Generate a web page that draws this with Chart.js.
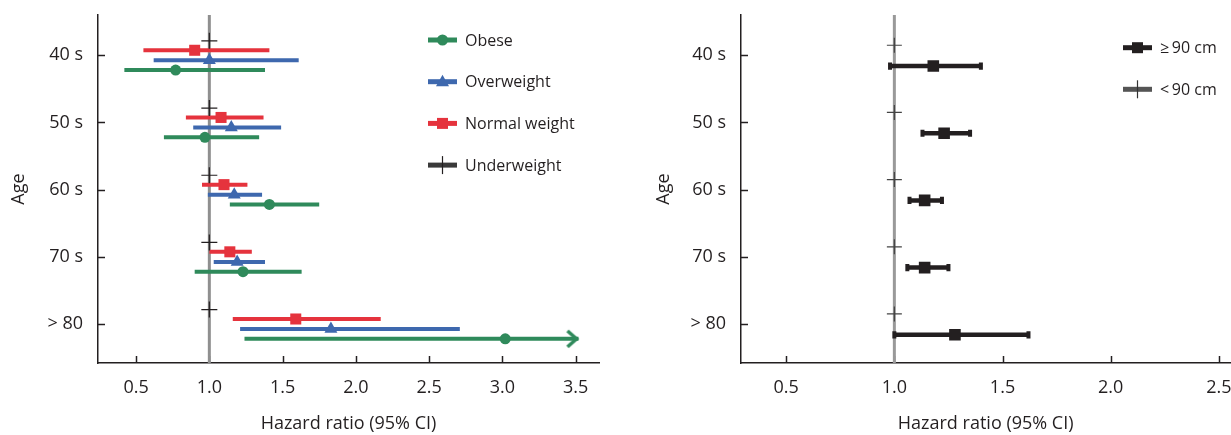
<!DOCTYPE html>
<html>
<head>
<meta charset="utf-8">
<script src="https://cdn.jsdelivr.net/npm/chart.js@4.4.1/dist/chart.umd.min.js"></script>
<style>
  body { margin: 0; background: #fff; overflow: hidden; }
  #wrap { position: relative; width: 1231px; height: 435px; overflow: hidden; }
  .panel { position: absolute; top: 0; height: 435px; }
  #left { left: 0; width: 615px; }
  #right { left: 615px; width: 624px; }
</style>
</head>
<body>
<div id="wrap">
  <div class="panel" id="left"><canvas id="bmiChart"></canvas></div>
  <div class="panel" id="right"><canvas id="waistChart"></canvas></div>
</div>
<script>
// Age groups (top to bottom)
const ageLabels = ['40 s', '50 s', '60 s', '70 s', '> 80'];

// Left panel: BMI groups, hazard ratio with 95% CI
const obeseHR = [0.77, 0.97, 1.41, 1.23, 3.02];
const obeseLo = [0.42, 0.69, 1.14, 0.90, 1.24];
const obeseHi = [1.38, 1.34, 1.75, 1.63, 3.52]; // last one runs off as an arrow
const overweightHR = [1.00, 1.15, 1.17, 1.19, 1.83];
const overweightLo = [0.62, 0.89, 0.99, 1.03, 1.21];
const overweightHi = [1.61, 1.49, 1.36, 1.38, 2.71];
const normalHR = [0.90, 1.08, 1.10, 1.14, 1.59];
const normalLo = [0.55, 0.84, 0.95, 1.00, 1.16];
const normalHi = [1.41, 1.37, 1.26, 1.29, 2.17];
const underweightHR = [1, 1, 1, 1, 1]; // reference group

// Right panel: waist circumference
const waistHighHR = [1.18, 1.23, 1.14, 1.14, 1.28];
const waistHighLo = [0.98, 1.13, 1.07, 1.06, 1.00];
const waistHighHi = [1.40, 1.35, 1.22, 1.25, 1.62];
const waistLowHR = [1, 1, 1, 1, 1]; // reference group

// Tick labels
const leftTicks = [0.5, 1.0, 1.5, 2.0, 2.5, 3.0, 3.5];
const rightTicks = [0.5, 1.0, 1.5, 2.0, 2.5];
const REF_HR = 1;

const FONT = '"Open Sans", sans-serif';
const INK = '#231f20';
const RED = '#e5333d';
const BLUE = '#3e68ae';
const GREEN = '#2f8a5b';
const GRAY = '#8f8f8f';
const Y_MIN = -0.6, Y_MAX = 4.58;

// build a line dataset that breaks between rows
function ciSegments(lo, hi, offset) {
  const pts = [];
  lo.forEach((l, i) => {
    pts.push({ x: l, y: i + offset }, { x: hi[i], y: i + offset });
    if (i < lo.length - 1) pts.push({ x: null, y: null });
  });
  return pts;
}
function estPoints(hr, offset) {
  return hr.map((v, i) => ({ x: v, y: i + offset }));
}

// open chevron used at the end of the truncated CI
const arrowImg = document.createElement('canvas');
arrowImg.width = 28; arrowImg.height = 22;
(function () {
  const c = arrowImg.getContext('2d');
  c.strokeStyle = GREEN; c.lineWidth = 3.5; c.lineCap = 'butt'; c.lineJoin = 'miter';
  c.beginPath(); c.moveTo(3, 3); c.lineTo(12, 11); c.lineTo(3, 19); c.stroke();
})();

function axes(xMin, xMax, xTicks, yWidth, yTitlePad) {
  return {
    x: {
      type: 'linear', min: xMin, max: xMax,
      afterBuildTicks: s => { s.ticks = xTicks.map(v => ({ value: v })); },
      afterFit: s => { s.height = 72; s.paddingLeft = 0; s.paddingRight = 0; },
      grid: { display: false, drawTicks: false },
      border: { display: true, color: INK, width: 1.5 },
      ticks: { color: INK, font: { family: FONT, size: 18 }, padding: 14, maxRotation: 0, autoSkip: false,
               callback: v => v.toFixed(1) },
      title: { display: true, text: 'Hazard ratio (95% CI)', color: INK, font: { family: FONT, size: 18 },
               padding: { top: 0, bottom: 0 } }
    },
    y: {
      type: 'linear', reverse: true, min: Y_MIN, max: Y_MAX,
      afterBuildTicks: s => { s.ticks = ageLabels.map((_, i) => ({ value: i })); },
      afterFit: s => { s.width = yWidth; s.paddingTop = 0; s.paddingBottom = 0; },
      grid: { display: false, drawTicks: false },
      border: { display: true, color: INK, width: 1.5 },
      ticks: { color: INK, font: { family: FONT, size: 18 }, padding: 15, callback: v => ageLabels[v] },
      title: { display: true, text: 'Age', color: INK, font: { family: FONT, size: 18 },
               padding: { top: yTitlePad, bottom: 0 } }
    }
  };
}

// axis ticks point into the plot
const inwardTicks = {
  id: 'inwardTicks',
  beforeDatasetsDraw(chart) {
    const { ctx, scales: { x, y }, chartArea: a } = chart;
    ctx.save();
    ctx.strokeStyle = INK; ctx.lineWidth = 1.5;
    x.ticks.forEach(t => {
      const px = Math.round(x.getPixelForValue(t.value)) + 0.5;
      ctx.beginPath(); ctx.moveTo(px, a.bottom); ctx.lineTo(px, a.bottom - 7); ctx.stroke();
    });
    y.ticks.forEach(t => {
      const py = Math.round(y.getPixelForValue(t.value)) + 0.5;
      ctx.beginPath(); ctx.moveTo(a.left, py); ctx.lineTo(a.left + 7, py); ctx.stroke();
    });
    ctx.restore();
  }
};

function drawMarker(ctx, kind, cx, cy, color) {
  ctx.fillStyle = color;
  ctx.beginPath();
  if (kind === 'circle') {
    ctx.arc(cx, cy, 5.5, 0, Math.PI * 2);
  } else if (kind === 'triangle') {
    ctx.moveTo(cx, cy - 7); ctx.lineTo(cx + 6.5, cy + 4.5); ctx.lineTo(cx - 6.5, cy + 4.5); ctx.closePath();
  } else if (kind === 'rect') {
    ctx.rect(cx - 5.5, cy - 5.5, 11, 11);
  }
  ctx.fill();
  if (kind === 'cross') {
    ctx.strokeStyle = color; ctx.lineWidth = 1.2;
    ctx.beginPath(); ctx.moveTo(cx, cy - 9); ctx.lineTo(cx, cy + 9); ctx.stroke();
  }
}

function markerLegend(items, x0, y0, dy) {
  return {
    id: 'markerLegend',
    afterDraw(chart) {
      const ctx = chart.ctx;
      ctx.save();
      items.forEach((it, i) => {
        const y = y0 + i * dy;
        ctx.strokeStyle = it.line; ctx.lineWidth = 5;
        ctx.beginPath(); ctx.moveTo(x0, y); ctx.lineTo(x0 + 29, y); ctx.stroke();
        drawMarker(ctx, it.marker, x0 + 14.5, y, it.markerColor || it.line);
        ctx.fillStyle = INK;
        ctx.font = '16px ' + FONT;
        ctx.textBaseline = 'middle';
        ctx.fillText(it.label, x0 + 37, y + 1);
      });
      ctx.restore();
    }
  };
}

const common = {
  responsive: true,
  maintainAspectRatio: false,
  animation: false,
  events: [],
  plugins: { legend: { display: false }, tooltip: { enabled: false } }
};

// ---- left: BMI ----
const offU = -0.215, offN = -0.075, offO = 0.075, offB = 0.22;
const lastIdx = ageLabels.length * 3 - 2;

new Chart(document.getElementById('bmiChart'), {
  type: 'scatter',
  data: {
    datasets: [
      { data: estPoints(underweightHR, offU), pointStyle: 'cross', pointRadius: 8,
        pointBorderColor: INK, pointBorderWidth: 1.2 },
      { data: estPoints(normalHR, offN), pointStyle: 'rect', pointRadius: 7.8,
        pointBackgroundColor: RED, pointBorderWidth: 0 },
      { data: estPoints(overweightHR, offO), pointStyle: 'triangle', pointRadius: 7.5,
        pointBackgroundColor: BLUE, pointBorderWidth: 0 },
      { data: estPoints(obeseHR, offB), pointStyle: 'circle', pointRadius: 5.5,
        pointBackgroundColor: GREEN, pointBorderWidth: 0 },
      { data: ciSegments(normalLo, normalHi, offN), showLine: true, spanGaps: false,
        borderColor: RED, borderWidth: 4, pointRadius: 0 },
      { data: ciSegments(overweightLo, overweightHi, offO), showLine: true, spanGaps: false,
        borderColor: BLUE, borderWidth: 4, pointRadius: 0 },
      { data: ciSegments(obeseLo, obeseHi, offB), showLine: true, spanGaps: false,
        borderColor: GREEN, borderWidth: 4,
        pointStyle: c => c.dataIndex === lastIdx ? arrowImg : 'circle',
        pointRadius: c => c.dataIndex === lastIdx ? 10 : 0 },
      { data: [{ x: REF_HR, y: Y_MIN }, { x: REF_HR, y: Y_MAX }], showLine: true,
        borderColor: GRAY, borderWidth: 3, pointRadius: 0 }
    ]
  },
  options: Object.assign({}, common, {
    layout: { padding: { left: 0, right: 16, top: 15, bottom: 0 } },
    scales: axes(0.24, 3.66, leftTicks, 98, 8)
  }),
  plugins: [inwardTicks, markerLegend([
    { label: 'Obese', line: GREEN, marker: 'circle' },
    { label: 'Overweight', line: BLUE, marker: 'triangle' },
    { label: 'Normal weight', line: RED, marker: 'rect' },
    { label: 'Underweight', line: '#3a3a3a', marker: 'cross', markerColor: INK }
  ], 428, 40, 41.7)]
});

// ---- right: waist circumference ----
const offLow = -0.15, offHigh = 0.16;

new Chart(document.getElementById('waistChart'), {
  type: 'scatter',
  data: {
    datasets: [
      { data: estPoints(waistLowHR, offLow), pointStyle: 'cross', pointRadius: 7.5,
        pointBorderColor: '#444', pointBorderWidth: 1.2 },
      { data: estPoints(waistHighHR, offHigh), pointStyle: 'rect', pointRadius: 8.2,
        pointBackgroundColor: INK, pointBorderWidth: 0 },
      { data: ciSegments(waistHighLo, waistHighHi, offHigh), showLine: true, spanGaps: false,
        borderColor: INK, borderWidth: 4.5,
        pointStyle: 'line', rotation: 90, pointRadius: 3.6, pointBorderWidth: 4,
        pointBorderColor: INK },
      { data: [{ x: REF_HR, y: Y_MIN }, { x: REF_HR, y: Y_MAX }], showLine: true,
        borderColor: '#999', borderWidth: 3, pointRadius: 0 }
    ]
  },
  options: Object.assign({}, common, {
    layout: { padding: { left: 0, right: 0, top: 15, bottom: 0 } },
    scales: axes(0.291, 2.553, rightTicks, 126, 38)
  }),
  plugins: [inwardTicks, markerLegend([
    { label: '\u2265\u200990 cm', line: INK, marker: 'rect' },
    { label: '<\u200990 cm', line: '#555', marker: 'cross', markerColor: '#333' }
  ], 508, 47.7, 41.6)]
});
</script>
</body>
</html>
